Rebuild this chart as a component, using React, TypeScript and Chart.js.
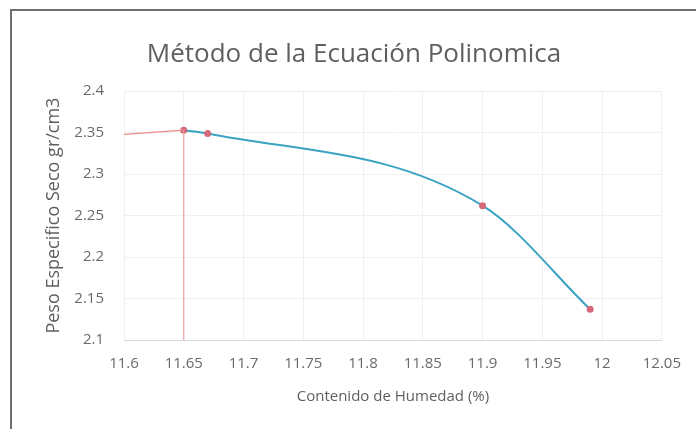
import React, { useEffect, useRef } from "react";
import { Chart, registerables } from "chart.js";

Chart.register(...registerables);

const humedad = [11.65, 11.67, 11.9, 11.99];
const pesoSeco = [2.353, 2.349, 2.262, 2.137];
const guiaHorizX = [11.6, 11.65];
const guiaHorizY = [2.348, 2.353];
const guiaVertX = [11.65, 11.65];
const guiaVertY = [2.1, 2.353];

const titulo = "Método de la Ecuación Polinomica";
const tituloX = "Contenido de Humedad (%)";
const tituloY = "Peso Especifico Seco gr/cm3";

const fmt = (v: number | string) => String(Number(Number(v).toFixed(2)));
const FONT = "'Open Sans'";
const GRAY = "#5f5f5f";
const TICK_GRAY = "#6a6a6a";

export default function App() {
  const ref = useRef<HTMLCanvasElement | null>(null);
  useEffect(() => {
    if (!ref.current) return;
    const pts = (xs: number[], ys: number[]) => xs.map((x, i) => ({ x, y: ys[i] }));
    const chart = new Chart(ref.current, {
      type: "scatter",
      data: {
        datasets: [
          {
            label: "h",
            data: pts(guiaHorizX, guiaHorizY),
            showLine: true,
            borderColor: "#ee8a8a",
            borderWidth: 1.2,
            pointRadius: 0,
          },
          {
            label: "v",
            data: pts(guiaVertX, guiaVertY),
            showLine: true,
            borderColor: "#f0a0a0",
            borderWidth: 1.2,
            pointRadius: 0,
          },
          {
            label: "curva",
            data: pts(humedad, pesoSeco),
            showLine: true,
            cubicInterpolationMode: "monotone",
            borderColor: "#3aa3c4",
            borderWidth: 2,
            pointRadius: 2.5,
            pointBackgroundColor: "#d46a78",
            pointBorderColor: "#d46a78",
          },
        ],
      },
      options: {
        animation: false,
        responsive: false,
        layout: { padding: { left: 31, right: 31, top: 0, bottom: 19 } },
        plugins: {
          legend: { display: false },
          tooltip: { enabled: false },
          title: {
            display: true,
            text: titulo,
            color: GRAY,
            font: { family: FONT, size: 26, weight: "normal" },
            padding: { top: 28, bottom: 21 },
          },
        },
        scales: {
          x: {
            type: "linear",
            min: 11.6,
            max: 12.05,
            ticks: {
              stepSize: 0.05,
              color: TICK_GRAY,
              padding: 15,
              font: { family: FONT, size: 15 },
              callback: (v) => fmt(v),
            },
            grid: { color: "#f0f0f0", drawTicks: false },
            border: { color: "#dadada" },
            title: {
              display: true,
              text: tituloX,
              color: GRAY,
              padding: { top: 0, bottom: 4 },
              font: { family: FONT, size: 15 },
            },
          },
          y: {
            min: 2.1,
            max: 2.4,
            afterFit: (scale) => {
              scale.width = 81;
            },
            ticks: {
              stepSize: 0.05,
              color: TICK_GRAY,
              font: { family: FONT, size: 15 },
              padding: 20,
              callback: (v) => fmt(v),
            },
            grid: { color: "#f0f0f0", drawTicks: false },
            border: { color: "#f0f0f0" },
            title: {
              display: true,
              text: tituloY,
              color: GRAY,
              padding: { top: 0, bottom: 8 },
              font: { family: FONT, size: 18 },
            },
          },
        },
      },
    });
    return () => chart.destroy();
  }, []);
  return (
    <div style={{ position: "fixed", left: 0, top: 0, width: 696, height: 429, background: "#fff" }}>
      <div
        style={{
          position: "absolute",
          left: 10,
          top: 9,
          width: 690,
          height: 430,
          borderLeft: "2px solid #6f6f6f",
          borderTop: "2px solid #6f6f6f",
        }}
      />
      <canvas ref={ref} width={684} height={418} style={{ position: "absolute", left: 12, top: 11 }} />
    </div>
  );
}
